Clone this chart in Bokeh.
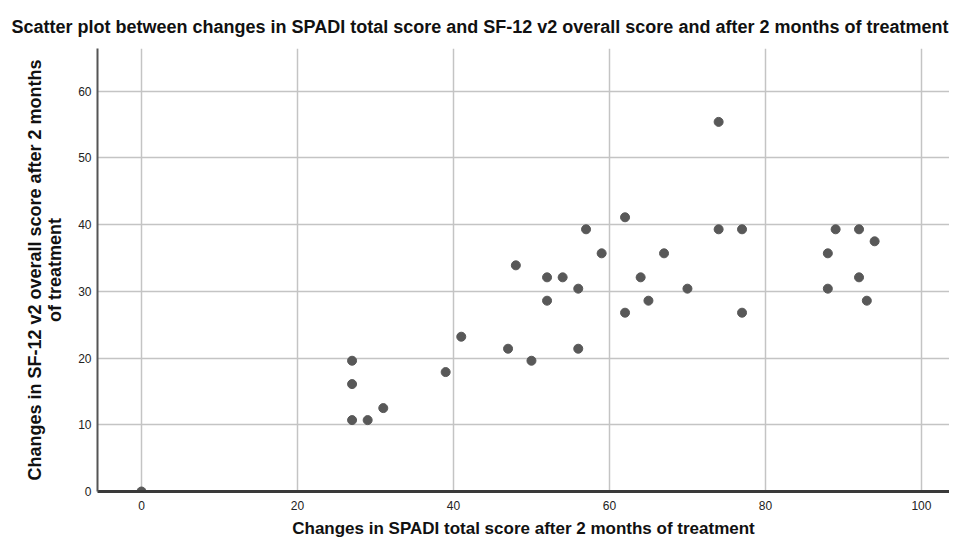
from bokeh.plotting import figure
from bokeh.models import Range1d, FixedTicker
from bokeh.embed import file_html
from bokeh.resources import INLINE

# Data
spadi_change = [0, 27, 27, 27, 29, 31, 39, 41, 47, 48, 50, 52, 52, 54, 56, 56, 57, 59,
                62, 62, 64, 65, 67, 70, 74, 74, 77, 77, 88, 88, 89, 92, 92, 93, 94]
sf12_change = [0.0, 19.6, 16.1, 10.7, 10.7, 12.5, 17.9, 23.2, 21.4, 33.9, 19.6, 32.1, 28.6,
               32.1, 30.4, 21.4, 39.3, 35.7, 41.1, 26.8, 32.1, 28.6, 35.7, 30.4, 55.4, 39.3,
               39.3, 26.8, 35.7, 30.4, 39.3, 39.3, 32.1, 28.6, 37.5]
x_ticks = [0, 20, 40, 60, 80, 100]
y_ticks = [0, 10, 20, 30, 40, 50, 60]

title_text = "Scatter plot between changes in SPADI total score and SF-12 v2 overall score and  after 2 months of treatment"
x_label = "Changes in SPADI total score after 2 months of treatment"
y_label = "Changes in SF-12 v2 overall score after 2 months\nof treatment"

FONT = "Liberation Sans"

p = figure(width=949, height=540, output_backend="svg", toolbar_location=None,
           x_range=Range1d(-5.64, 103.6), y_range=Range1d(0, 66.4),
           min_border_left=97, min_border_right=0, min_border_top=48, min_border_bottom=48,
           title=title_text)

p.outline_line_color = None
p.background_fill_color = "white"
p.border_fill_color = "white"

p.title.align = "left"
p.title.offset = -86
p.title.standoff = 23
p.title.text_font = FONT
p.title.text_font_style = "bold"
p.title.text_font_size = "18px"
p.title.text_color = "#111111"

p.scatter(spadi_change, sf12_change, size=9, marker="circle",
          fill_color="#585858", line_color="#585858")

# grids
for g in (p.xgrid, p.ygrid):
    g.grid_line_color = "#c4c4c4"
    g.grid_line_width = 1.5
p.xgrid.ticker = FixedTicker(ticks=x_ticks)
p.ygrid.ticker = FixedTicker(ticks=y_ticks)

# axes
p.xaxis.ticker = FixedTicker(ticks=x_ticks)
p.yaxis.ticker = FixedTicker(ticks=y_ticks)
for ax in (p.xaxis[0], p.yaxis[0]):
    ax.major_tick_line_color = None
    ax.minor_tick_line_color = None
    ax.major_tick_out = 0
    ax.major_tick_in = 0
    ax.minor_tick_out = 0
    ax.major_label_text_font = FONT
    ax.major_label_text_font_size = "12px"
    ax.major_label_text_color = "#222222"
    ax.axis_label_text_font = FONT
    ax.axis_label_text_font_style = "bold"
    ax.axis_label_text_color = "#111111"

p.xaxis.axis_label = x_label
p.xaxis.axis_label_text_font_size = "17px"
p.xaxis.axis_line_color = "#3a3a3a"
p.xaxis.axis_line_width = 3
p.xaxis.major_label_standoff = 9
p.xaxis.axis_label_standoff = 6

p.yaxis.axis_label = y_label
p.yaxis.axis_label_text_font_size = "18px"
p.yaxis.axis_label_text_line_height = 1.0
p.yaxis.axis_line_color = "#555555"
p.yaxis.axis_line_width = 2
p.yaxis.major_label_standoff = 6
p.yaxis.axis_label_standoff = 10

open("out.html", "w").write(file_html(p, INLINE))
